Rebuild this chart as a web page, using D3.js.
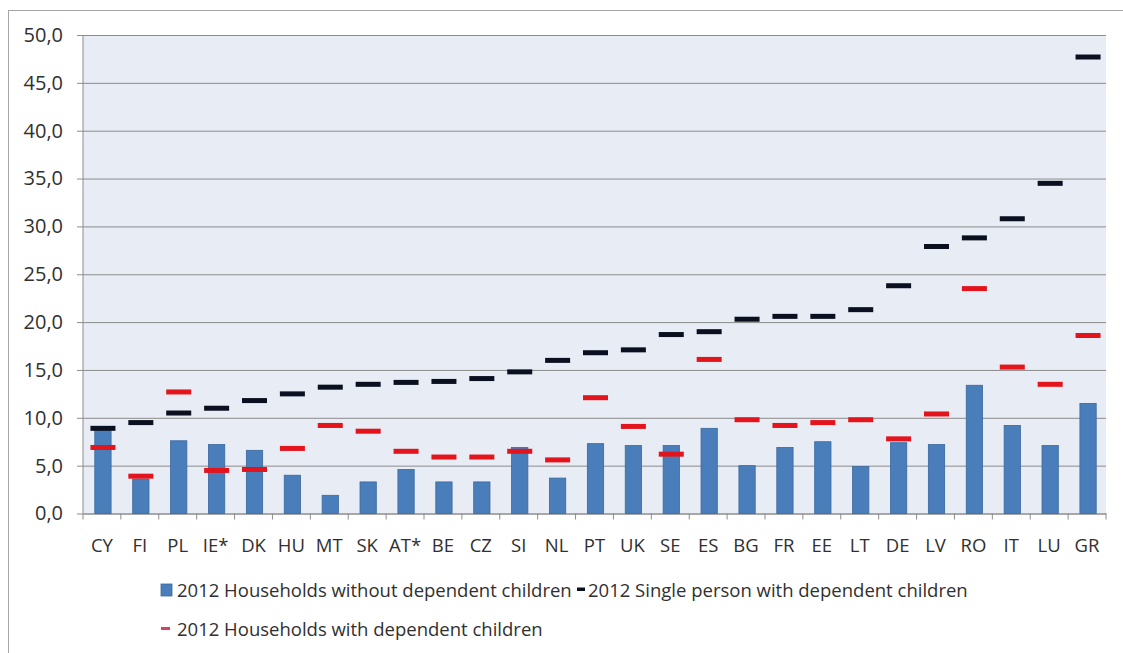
<!DOCTYPE html>
<html>
<head>
<meta charset="utf-8">
<script src="https://cdn.jsdelivr.net/npm/d3@7"></script>
<style>
  body { margin: 0; background: #fff; }
  svg text { font-family: "Open Sans", sans-serif; fill: #303030; }
</style>
</head>
<body>
<div id="chart"></div>
<script>
// values
const countries = ["CY", "FI", "PL", "IE*", "DK", "HU", "MT", "SK", "AT*", "BE", "CZ", "SI", "NL",
  "PT", "UK", "SE", "ES", "BG", "FR", "EE", "LT", "DE", "LV", "RO", "IT", "LU", "GR"];
const withoutChildren = [8.7, 3.6, 7.6, 7.2, 6.6, 4.0, 1.9, 3.3, 4.6, 3.3, 3.3, 6.9, 3.7,
  7.3, 7.1, 7.1, 8.9, 5.0, 6.9, 7.5, 4.9, 7.4, 7.2, 13.4, 9.2, 7.1, 11.5];
const singleWithChildren = [8.9, 9.5, 10.5, 11.0, 11.8, 12.5, 13.2, 13.5, 13.7, 13.8, 14.1, 14.8, 16.0,
  16.8, 17.1, 18.7, 19.0, 20.3, 20.6, 20.6, 21.3, 23.8, 27.9, 28.8, 30.8, 34.5, 47.7];
const withChildren = [6.9, 3.9, 12.7, 4.5, 4.6, 6.8, 9.2, 8.6, 6.5, 5.9, 5.9, 6.5, 5.6,
  12.1, 9.1, 6.2, 16.1, 9.8, 9.2, 9.5, 9.8, 7.8, 10.4, 23.5, 15.3, 13.5, 18.6];
const yTicks = [0, 5, 10, 15, 20, 25, 30, 35, 40, 45, 50];
const legendLabels = ["2012 Households without dependent children",
  "2012 Single person with dependent children",
  "2012 Households with dependent children"];

const width = 1123, height = 653;
const margin = {top: 35, right: 17, bottom: 140, left: 83};

const svg = d3.select("#chart").append("svg")
  .attr("width", width)
  .attr("height", height);

// outer chart frame (runs off the right and bottom edge)
svg.append("rect")
  .attr("x", 8.5).attr("y", 10.5)
  .attr("width", width).attr("height", height)
  .attr("fill", "none")
  .attr("stroke", "#a6a6a6");

const x = d3.scaleBand()
  .domain(countries)
  .range([margin.left, width - margin.right])
  .padding(0);

const y = d3.scaleLinear()
  .domain([0, 50])
  .range([height - margin.bottom + 0.5, margin.top]);

const g = svg.append("g");

g.append("rect")
  .attr("x", margin.left)
  .attr("y", margin.top)
  .attr("width", width - margin.right - margin.left)
  .attr("height", y(0) - margin.top)
  .attr("fill", "#e8ecf4");

// y axis with gridlines
const yAxis = g.append("g")
  .attr("transform", `translate(${margin.left},0)`)
  .call(d3.axisLeft(y)
    .tickValues(yTicks)
    .tickSize(-(width - margin.right - margin.left))
    .tickPadding(20)
    .tickFormat(d => d3.format(".1f")(d).replace(".", ",")));
yAxis.select(".domain").remove();
yAxis.selectAll(".tick line")
  .attr("x1", -6)
  .attr("stroke", "#8c8c8c");
yAxis.selectAll(".tick text")
  .style("font-size", "20px")
  .attr("fill", "#303030");

g.append("line")
  .attr("x1", margin.left).attr("x2", margin.left)
  .attr("y1", margin.top).attr("y2", y(0))
  .attr("stroke", "#8c8c8c");

// x axis
const xAxis = g.append("g")
  .attr("transform", `translate(0,${y(0)})`)
  .call(d3.axisBottom(x).tickSize(0).tickPadding(25));
xAxis.select(".domain").attr("stroke", "#8c8c8c");
xAxis.selectAll(".tick text")
  .style("font-size", "18.5px")
  .attr("fill", "#303030");

// tick marks between categories
g.selectAll(".xtick")
  .data(countries.concat([null]))
  .join("line")
  .attr("class", "xtick")
  .attr("x1", (d, i) => i < countries.length ? x(d) : x(countries[countries.length - 1]) + x.bandwidth())
  .attr("x2", (d, i) => i < countries.length ? x(d) : x(countries[countries.length - 1]) + x.bandwidth())
  .attr("y1", y(0))
  .attr("y2", y(0) + 6)
  .attr("stroke", "#8c8c8c");

const barW = x.bandwidth() * 0.43;
const dashW = x.bandwidth() * 0.66;

g.selectAll(".bar")
  .data(withoutChildren)
  .join("rect")
  .attr("class", "bar")
  .attr("x", (d, i) => x(countries[i]) + x.bandwidth() / 2 - barW / 2 + 1)
  .attr("y", d => y(d))
  .attr("width", barW)
  .attr("height", d => y(0) - y(d))
  .attr("fill", "#4a7ebb")
  .attr("stroke", "#3a679e")
  .attr("stroke-width", 0.8);

function dashes(data, cls, color) {
  g.selectAll("." + cls)
    .data(data)
    .join("rect")
    .attr("class", cls)
    .attr("x", (d, i) => x(countries[i]) + x.bandwidth() / 2 - dashW / 2 + 1)
    .attr("y", d => y(d) - 2.5)
    .attr("width", dashW)
    .attr("height", 5)
    .attr("fill", color);
}
dashes(singleWithChildren, "single", "#0b1020");
dashes(withChildren, "withkids", "#e3141c");

// legend
const leg = svg.append("g").style("font-size", "18.5px");
leg.append("rect").attr("x", 161).attr("y", 584).attr("width", 11).attr("height", 12)
  .attr("fill", "#4a7ebb").attr("stroke", "#3a679e").attr("stroke-width", 0.8);
leg.append("text").attr("x", 177).attr("y", 597).text(legendLabels[0]);
leg.append("rect").attr("x", 577).attr("y", 587.5).attr("width", 8).attr("height", 3.5)
  .attr("fill", "#0b1020");
leg.append("text").attr("x", 588).attr("y", 597).text(legendLabels[1]);
leg.append("rect").attr("x", 161).attr("y", 627).attr("width", 9).attr("height", 3)
  .attr("fill", "#d4435f");
leg.append("text").attr("x", 177).attr("y", 636).text(legendLabels[2]);
</script>
</body>
</html>
